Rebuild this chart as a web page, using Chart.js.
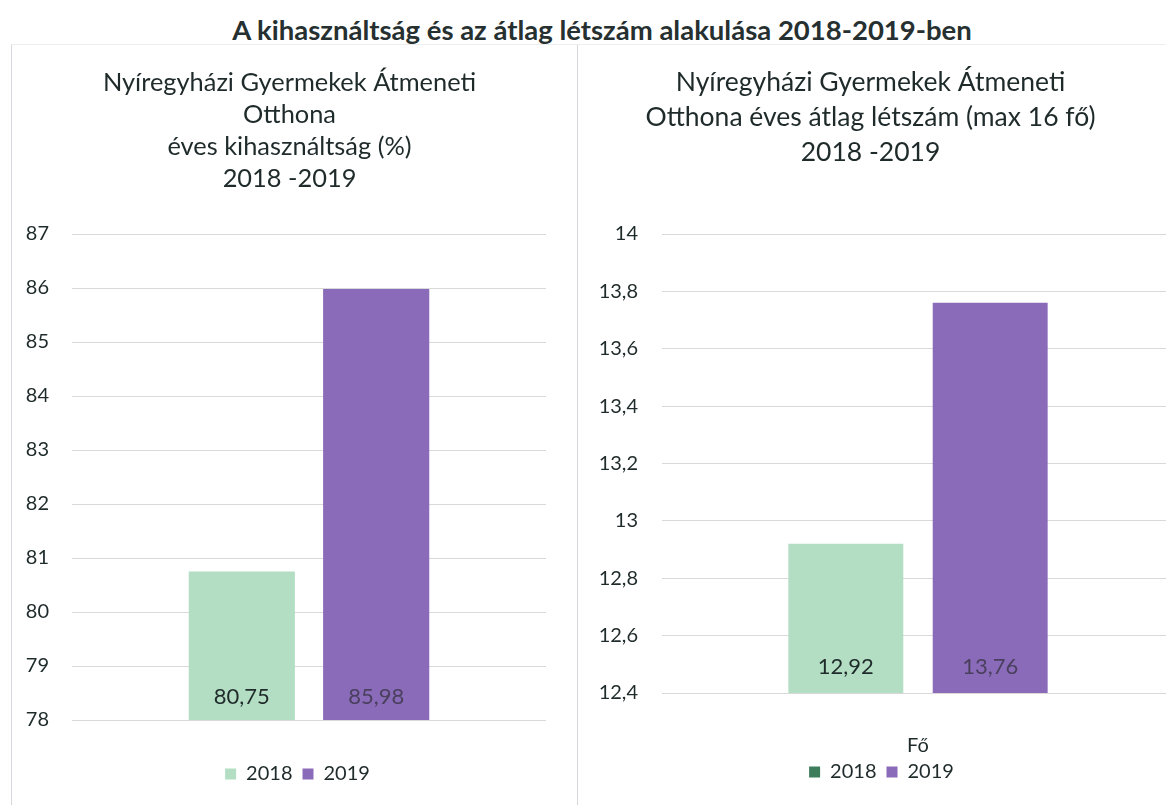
<!DOCTYPE html>
<html>
<head>
<meta charset="utf-8">
<script src="https://cdn.jsdelivr.net/npm/chart.js@4.4.1/dist/chart.umd.min.js"></script>
<style>
	html, body { margin: 0; padding: 0; background: #fff; overflow: hidden; }
	body { width: 1166px; height: 805px; position: relative; font-family: Lato, "Open Sans", sans-serif; }
	#main-title { position: absolute; left: 0; top: 13px; width: 1204px; text-align: center; font: bold 27.5px Lato, sans-serif; color: #263030; white-space: nowrap; }
	.line { position: absolute; background: #d6d6dc; }
	canvas { position: absolute; top: 44px; }
	#chart-util { left: 11px; }
	#chart-head { left: 577px; }
</style>
</head>
<body>
<div id="main-title">A kihasználtság és az átlag létszám alakulása 2018-2019-ben</div>
<div class="line" style="left:11px; top:44px; width:1px; height:761px;"></div>
<div class="line" style="left:577px; top:44px; width:1px; height:761px;"></div>
<div class="line" style="left:11px; top:44px; width:1155px; height:1px; background:#eeeeee;"></div>
<canvas id="chart-util" width="566" height="761"></canvas>
<canvas id="chart-head" width="597" height="761"></canvas>
<script>
// Data
const YEARS = ["2018", "2019"];
const UTIL_CATEGORY = [""];
const UTIL_2018 = [80.75];
const UTIL_2019 = [85.98];
const HEAD_CATEGORY = ["Fő"];
const HEAD_2018 = [12.92];
const HEAD_2019 = [13.76];
const UTIL_TICKS = [78, 87, 1]; // min, max, step
const HEAD_TICKS = [12.4, 14, 0.2];

const FONT = "Lato, 'Open Sans', sans-serif";
const TEXT = "#1f2a2a";
const GREEN = "#b3dec3";
const PURPLE = "#8a6bb9";
const GRID = "#d9d9d9";
const LABEL_COLORS = ["#1f2b2b", "#4a405e"];

const commaNum = (v, digits) => Number(v.toFixed(digits)).toString().replace(".", ",");

// value labels near the bottom of every bar
const valueLabels = (offset) => ({
	id: "valueLabels",
	afterDraw(chart) {
		const ctx = chart.ctx;
		const yBase = chart.scales.y.getPixelForValue(chart.scales.y.min);
		chart.data.datasets.forEach((ds, i) => {
			chart.getDatasetMeta(i).data.forEach((bar, j) => {
				ctx.save();
				ctx.font = "22px " + FONT;
				ctx.fillStyle = LABEL_COLORS[i];
				ctx.textAlign = "center";
				ctx.textBaseline = "middle";
				ctx.fillText(ds.data[j].toFixed(2).replace(".", ","), bar.x, yBase - offset);
				ctx.restore();
			});
		});
	},
});

// nudge title / legend sideways (they are centred on the whole canvas otherwise)
const shiftBoxes = (dxTitle, dxLegend) => ({
	id: "shiftBoxes",
	afterLayout(chart) {
		chart.titleBlock.left += dxTitle;
		chart.titleBlock.right += dxTitle;
		chart.legend.left += dxLegend;
		chart.legend.right += dxLegend;
	},
});

const makeChart = (el, cfg) => {
	const [min, max, step] = cfg.ticks;
	return new Chart(document.getElementById(el), {
		type: "bar",
		data: {
			labels: cfg.labels,
			datasets: [
				{ label: YEARS[0], data: cfg.a, backgroundColor: GREEN, borderWidth: 0 },
				{ label: YEARS[1], data: cfg.b, backgroundColor: PURPLE, borderWidth: 0 },
			],
		},
		plugins: [valueLabels(cfg.labelOffset), shiftBoxes(cfg.shift[0], cfg.shift[1])],
		options: {
			responsive: false,
			animation: false,
			categoryPercentage: cfg.cp,
			barPercentage: cfg.bp,
			layout: { padding: cfg.padding },
			plugins: {
				title: {
					display: true,
					text: cfg.title,
					color: TEXT,
					font: { family: FONT, size: cfg.titleSize, weight: "normal", lineHeight: cfg.titleLine / cfg.titleSize },
					padding: cfg.titlePad,
				},
				legend: {
					position: "bottom",
					labels: {
						color: TEXT,
						font: { family: FONT, size: 20 },
						boxWidth: 11,
						boxHeight: 11,
						padding: 10,
						generateLabels: (chart) => {
							const items = Chart.defaults.plugins.legend.labels.generateLabels(chart);
							items.forEach((it, i) => {
								it.fillStyle = cfg.legendColors[i];
								it.strokeStyle = cfg.legendColors[i];
								it.lineWidth = 0;
							});
							return items;
						},
					},
				},
				tooltip: { enabled: false },
			},
			scales: {
				x: {
					border: { display: false },
					grid: { display: false, drawTicks: false },
					ticks: { color: TEXT, font: { family: FONT, size: 20 }, padding: cfg.xPad },
					afterFit: (scale) => { scale.height = cfg.xHeight; },
				},
				y: {
					min: min,
					max: max,
					border: { display: false },
					grid: { color: GRID, lineWidth: 1, drawTicks: false },
					ticks: {
						stepSize: step,
						color: TEXT,
						font: { family: FONT, size: 20 },
						padding: cfg.yPad,
						callback: (v) => commaNum(v, 1),
					},
					afterFit: (scale) => { scale.width = cfg.yWidth; },
				},
			},
		},
	});
};

makeChart("chart-util", {
	labels: UTIL_CATEGORY,
	a: UTIL_2018,
	b: UTIL_2019,
	ticks: UTIL_TICKS,
	cp: 0.567,
	bp: 0.79,
	padding: { left: 0, right: 31, top: 0, bottom: 11 },
	title: ["Nyíregyházi Gyermekek Átmeneti", "Otthona", "éves kihasználtság (%)", "2018 -2019"],
	titleSize: 25.4,
	titleLine: 32,
	titlePad: { top: 23, bottom: 39 },
	legendColors: [GREEN, PURPLE],
	labelOffset: 23,
	shift: [11, 19],
	xPad: 0,
	xHeight: 34,
	yPad: 23,
	yWidth: 61,
});

makeChart("chart-head", {
	labels: HEAD_CATEGORY,
	a: HEAD_2018,
	b: HEAD_2019,
	ticks: HEAD_TICKS,
	cp: 0.564,
	bp: 0.796,
	padding: { left: 0, right: 0, top: 0, bottom: 13 },
	title: ["Nyíregyházi Gyermekek Átmeneti", "Otthona éves átlag létszám (max 16 fő)", "2018 -2019"],
	titleSize: 26.5,
	titleLine: 35,
	titlePad: { top: 20.5, bottom: 64.5 },
	legendColors: ["#3d7d5c", PURPLE],
	labelOffset: 26,
	shift: [-5, 6],
	xPad: 41,
	xHeight: 59,
	yPad: 24,
	yWidth: 85,
});
</script>
</body>
</html>
